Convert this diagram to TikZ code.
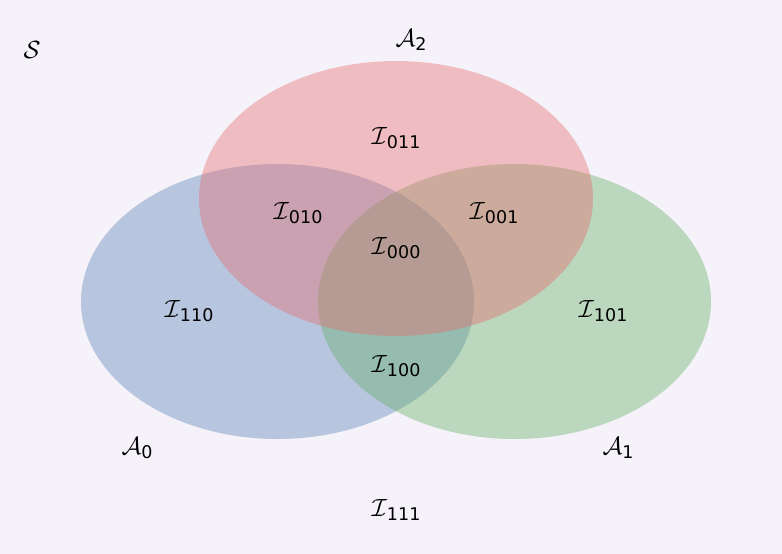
\documentclass[tikz,border=0pt]{standalone}
\usepackage{fontspec}
\newfontfamily\dvsfont{DejaVu Sans}
\definecolor{bgc}{RGB}{245,242,249}
\definecolor{redc}{RGB}{230,107,109}
\definecolor{bluec}{RGB}{90,130,182}
\definecolor{greenc}{RGB}{100,175,102}
\newcommand{\vlab}[2]{{\fontsize{25}{25}\selectfont$\mathcal{#1}$\raisebox{-3.5pt}{\fontsize{17.5}{17.5}\selectfont\dvsfont #2}}}
\tikzset{
  setell/.style={draw=none, fill opacity=0.4},
  lbl/.style={inner sep=0pt, text=black}
}
\begin{document}
\begin{tikzpicture}[x=1pt,y=-1pt]
\fill[bgc] (0,0) rectangle (782,554);
\useasboundingbox (0,0) rectangle (782,554);
\fill[setell, bluec] (277.5,301.5) ellipse [x radius=196.5, y radius=137.5];
\fill[setell, greenc] (514.5,301.5) ellipse [x radius=196.5, y radius=137.5];
\fill[setell, redc] (396,198.5) ellipse [x radius=197, y radius=137.5];
\node[lbl] (S) at (32,50) {{\fontsize{25}{25}\selectfont$\mathcal{S}$}};
\node[lbl] (A2) at (411,40) {\vlab{A}{2}};
\node[lbl] (A0) at (137,448) {\vlab{A}{0}};
\node[lbl] (A1) at (618,448) {\vlab{A}{1}};
\node[lbl] (I111) at (396,510) {\vlab{I}{111}};
\node[lbl] (I011) at (396,138) {\vlab{I}{011}};
\node[lbl] (I010) at (298,213) {\vlab{I}{010}};
\node[lbl] (I001) at (494,213) {\vlab{I}{001}};
\node[lbl] (I000) at (396,248) {\vlab{I}{000}};
\node[lbl] (I110) at (189,311) {\vlab{I}{110}};
\node[lbl] (I101) at (603,311) {\vlab{I}{101}};
\node[lbl] (I100) at (396,366) {\vlab{I}{100}};
\end{tikzpicture}
\end{document}
